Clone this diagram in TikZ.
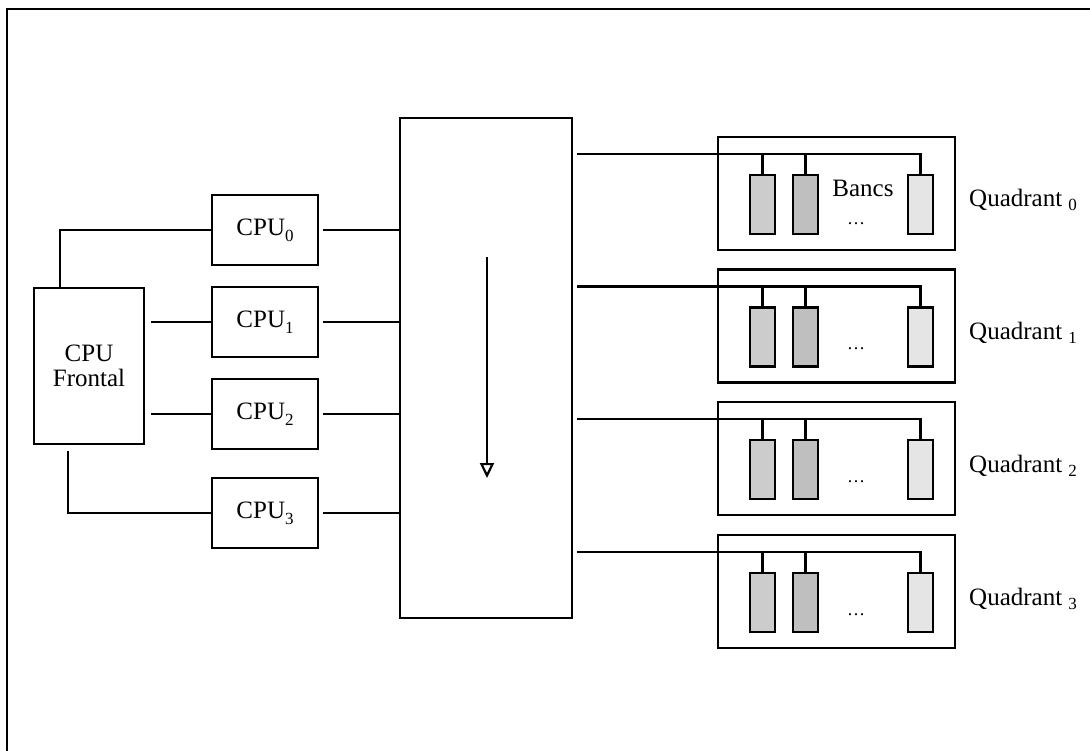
\documentclass[tikz,border=0pt]{standalone}
\usepackage{fontspec}
\setmainfont{Liberation Serif}
\usetikzlibrary{arrows.meta}

\newcommand{\cpusub}[1]{\raisebox{-6pt}{\fontsize{17}{17}\selectfont #1}}
\newcommand{\quadsub}[1]{\raisebox{-4pt}{\fontsize{17}{17}\selectfont #1}}

\begin{document}
\begin{tikzpicture}[x=1pt, y=-1pt, line width=2.2pt,
    texte/.style={font=\fontsize{25}{25}\selectfont},
    boite/.style={draw, texte, minimum width=106pt, minimum height=70pt, inner sep=0pt},
    quadbox/.style={draw, minimum width=237pt, minimum height=113pt, inner sep=0pt},
    banc/.style={draw, minimum width=25pt, minimum height=59pt, inner sep=0pt},
    fleche/.style={-{Triangle[open, length=15pt, width=14pt, line width=2.2pt]}}]
            \useasboundingbox (0,0) rectangle (1090,751);

            % Cadre
            \draw[line width=2.6pt] (7,751) -- (7,9) -- (1090,9);

            % CPU frontal
            \node[boite, minimum width=110pt, minimum height=156pt, align=center] (frontal) at (89,366) {CPU\\Frontal};

            % CPU 0..3
            \foreach \i/\y in {0/230, 1/322, 2/414, 3/513}
                \node[boite] (cpu\i) at (265,\y) {CPU\cpusub{\i}};

            % Reseau d'interconnexion
            \node[draw, minimum width=172pt, minimum height=500pt, inner sep=0pt] (reseau) at (486,368) {};
            \coordinate (hautfleche) at (487,257);
            \coordinate (basfleche) at (487,478);
            \draw[fleche] (hautfleche) -- (basfleche);

            % Frontal vers CPU
            \draw ([xshift=-29pt]frontal.north) |- (cpu0.west);
            \draw[shorten <=6pt] (frontal.east |- cpu1.west) -- (cpu1.west);
            \draw[shorten <=6pt] (frontal.east |- cpu2.west) -- (cpu2.west);
            \draw[shorten <=6pt] ([xshift=-21pt]frontal.south) |- (cpu3.west);

            % CPU vers reseau
            \foreach \i in {0,...,3}
                \draw[shorten <=4pt] (cpu\i.east) -- (cpu\i.east -| reseau.west);

            % Quadrants et bancs
            \foreach \i/\y/\d in {0/193.5/30, 1/326/23, 2/458.5/23, 3/591.5/23} {
                \node[quadbox] (quad\i) at (836.5,\y) {};
                \node[banc, fill=gray!40] (banc\i a) at (762.5,\y+11) {};
                \node[banc, fill=gray!50] (banc\i b) at (805.5,\y+11) {};
                \node[banc, fill=gray!20] (banc\i c) at (920.5,\y+11) {};
                \coordinate (bus\i) at (920.5,\y-39.5);
                \draw[shorten <=4pt] (reseau.east |- bus\i) -- (bus\i) -- (banc\i c.north);
                \draw (banc\i a.north) -- (banc\i a.north |- bus\i);
                \draw (banc\i b.north) -- (banc\i b.north |- bus\i);
                \node[font=\fontsize{18}{18}\selectfont, inner sep=0pt] (points\i) at (856,\y+\d) {\dots};
                \node[texte, anchor=base west, inner sep=0pt] (nom\i) at ([xshift=12pt, yshift=-13.5pt]quad\i.east) {Quadrant \quadsub{\i}};
            }
            \node[texte, inner sep=0pt] (bancs) at ([xshift=26.5pt, yshift=5pt]quad0.center) {Bancs};
\end{tikzpicture}
\end{document}
